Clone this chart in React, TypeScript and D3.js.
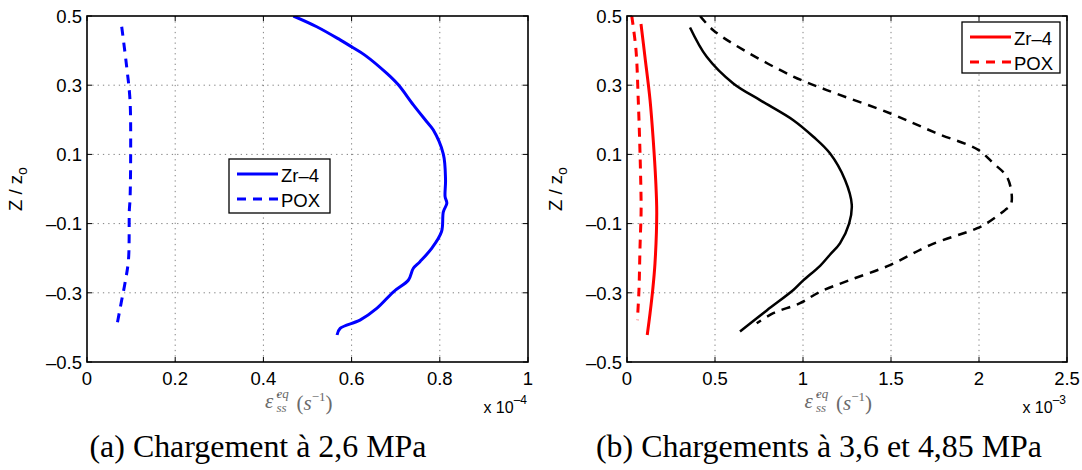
import React from "react";
import * as d3 from "d3";

// ---------- data (x in units of the exponent, z = Z / z_o) ----------
const yTicks = [-0.5, -0.3, -0.1, 0.1, 0.3, 0.5];
const xTicksA = [0, 0.2, 0.4, 0.6, 0.8, 1];
const xTicksB = [0, 0.5, 1, 1.5, 2, 2.5];

// Panel (a): 2.6 MPa, x 1e-4
const zr4A: [number, number][] = [
  [0.468, 0.5], [0.521, 0.469], [0.574, 0.431], [0.6, 0.411], [0.63, 0.387],
  [0.68, 0.334], [0.706, 0.301], [0.74, 0.243], [0.77, 0.195], [0.785, 0.171],
  [0.808, 0.101], [0.813, 0.026], [0.812, -0.022], [0.816, -0.041], [0.808, -0.066],
  [0.804, -0.123], [0.782, -0.171], [0.755, -0.21], [0.74, -0.229], [0.729, -0.263],
  [0.695, -0.297], [0.657, -0.345], [0.619, -0.379], [0.574, -0.403], [0.567, -0.422],
];
const poxA: [number, number][] = [
  [0.0787, 0.469], [0.09, 0.353], [0.0975, 0.257], [0.099, 0.103], [0.0975, -0.032],
  [0.096, -0.061], [0.094, -0.205], [0.086, -0.273], [0.0787, -0.321], [0.0673, -0.398],
];

// Panel (b): 3.6 MPa (red) and 4.85 MPa (black), x 1e-3
const zr4B36: [number, number][] = [
  [0.0795, 0.477], [0.102, 0.382], [0.131, 0.257], [0.149, 0.142], [0.163, 0.026],
  [0.169, -0.07], [0.159, -0.215], [0.146, -0.292], [0.131, -0.359], [0.115, -0.422],
];
const poxB36: [number, number][] = [
  [0.027, 0.5], [0.051, 0.402], [0.064, 0.257], [0.074, 0.103], [0.08, -0.032],
  [0.08, -0.07], [0.074, -0.167], [0.068, -0.292], [0.059, -0.379],
];
const zr4B485: [number, number][] = [
  [0.358, 0.467], [0.453, 0.382], [0.604, 0.305], [0.756, 0.257], [0.945, 0.199],
  [1.059, 0.151], [1.153, 0.103], [1.239, 0.026], [1.277, -0.045], [1.262, -0.1],
  [1.21, -0.157], [1.153, -0.19], [1.097, -0.222], [1.0, -0.265], [0.945, -0.292],
  [0.794, -0.351], [0.642, -0.412],
];
const poxB485: [number, number][] = [
  [0.415, 0.5], [0.49, 0.459], [0.661, 0.402], [0.945, 0.325], [1.135, 0.286],
  [1.494, 0.219], [1.76, 0.161], [1.996, 0.113], [2.082, 0.074], [2.158, 0.036],
  [2.186, -0.017], [2.18, -0.046], [2.148, -0.061], [2.044, -0.099], [1.987, -0.114],
  [1.722, -0.162], [1.494, -0.22], [1.267, -0.263], [1.097, -0.297], [0.983, -0.33],
  [0.831, -0.359], [0.737, -0.388],
];

const legendLabels = ["Zr–4", "POX"];
const captions = ["(a) Chargement à 2,6 MPa", "(b) Chargements à 3,6 et 4,85 MPa"];
const exponents = ["–4", "–3"];

// ---------- layout ----------
const TOP = 16;
const BOTTOM = 362;
const SANS = "'Liberation Sans', Arial, Helvetica, sans-serif";
const SERIF = "'Liberation Serif', 'DejaVu Serif', serif";
const fmt = (v: number) => String(v).replace("-", "–");

type Series = { data: [number, number][]; color: string; dashed: boolean; width: number };
type PanelProps = {
  id: string;
  left: number;
  right: number;
  xMax: number;
  xTicks: number[];
  series: Series[];
  legend: { x: number; y: number; w: number; h: number; color: string };
  exponent: string;
  caption: string;
  captionCx: number;
  captionLen: number;
};

function Panel(p: PanelProps) {
  const x = d3.scaleLinear().domain([0, p.xMax]).range([p.left, p.right]);
  const y = d3.scaleLinear().domain([-0.5, 0.5]).range([BOTTOM, TOP]);
  const line = d3
    .line<[number, number]>()
    .x((d) => x(d[0]))
    .y((d) => y(d[1]))
    .curve(d3.curveCatmullRom.alpha(0.5));
  const cx = (p.left + p.right) / 2;
  const cy = (TOP + BOTTOM) / 2;
  const tick = 5;
  const lg = p.legend;
  return (
    <g>
      <defs>
        <clipPath id={p.id}>
          <rect x={p.left} y={TOP} width={p.right - p.left} height={BOTTOM - TOP} />
        </clipPath>
      </defs>
      {/* grid */}
      {p.xTicks.slice(1, -1).map((t) => (
        <line key={"gx" + t} x1={x(t)} x2={x(t)} y1={TOP} y2={BOTTOM} stroke="#808080" strokeWidth={1} strokeDasharray="1.3,4" />
      ))}
      {yTicks.slice(1, -1).map((t) => (
        <line key={"gy" + t} x1={p.left} x2={p.right} y1={y(t)} y2={y(t)} stroke="#808080" strokeWidth={1} strokeDasharray="1.3,4" />
      ))}
      {/* ticks */}
      {p.xTicks.map((t) => (
        <g key={"tx" + t}>
          <line x1={x(t)} x2={x(t)} y1={BOTTOM} y2={BOTTOM - tick} stroke="#000" />
          <line x1={x(t)} x2={x(t)} y1={TOP} y2={TOP + tick} stroke="#000" />
          <text x={x(t)} y={BOTTOM + 22.5} textAnchor="middle" fontFamily={SANS} fontSize={18.5}>
            {fmt(t)}
          </text>
        </g>
      ))}
      {yTicks.map((t) => (
        <g key={"ty" + t}>
          <line x1={p.left} x2={p.left + tick} y1={y(t)} y2={y(t)} stroke="#000" />
          <line x1={p.right} x2={p.right - tick} y1={y(t)} y2={y(t)} stroke="#000" />
          <text x={p.left - 5} y={y(t) + 6.7} textAnchor="end" fontFamily={SANS} fontSize={18.5}>
            {fmt(t)}
          </text>
        </g>
      ))}
      {/* series */}
      <g clipPath={`url(#${p.id})`}>
        {p.series.map((s, i) => (
          <path
            key={i}
            d={line(s.data) || ""}
            fill="none"
            stroke={s.color}
            strokeWidth={s.width}
            strokeDasharray={s.dashed ? "9,7" : undefined}
            strokeLinejoin="round"
          />
        ))}
      </g>
      {/* box */}
      <rect x={p.left} y={TOP} width={p.right - p.left} height={BOTTOM - TOP} fill="none" stroke="#000" strokeWidth={1.6} />
      {/* legend */}
      <rect x={lg.x} y={lg.y} width={lg.w} height={lg.h} fill="#fff" stroke="#000" strokeWidth={1.3} />
      {legendLabels.map((lab, i) => {
        const ly = lg.y + 15 + i * 25;
        return (
          <g key={lab}>
            <line x1={lg.x + 8} x2={lg.x + 49} y1={ly} y2={ly} stroke={lg.color} strokeWidth={3} strokeDasharray={i === 1 ? "9,7" : undefined} />
            <text x={lg.x + 52} y={ly + 7.5} fontFamily={SANS} fontSize={18.5}>
              {lab}
            </text>
          </g>
        );
      })}
      {/* y label */}
      <text transform={`translate(${p.left - 65},${cy}) rotate(-90)`} textAnchor="middle" fontFamily={SANS} fontSize={18.5}>
        Z / z
        <tspan dy={5} fontSize={14}>o</tspan>
      </text>
      {/* x label */}
      <g fill="#6a6a6a" fontFamily={SERIF} fontStyle="italic">
        <text x={cx - 42.5} y={408} fontSize={21}>ε̇</text>
        <text x={cx - 31} y={398} fontSize={13}>eq</text>
        <text x={cx - 31} y={412} fontSize={13}>ss</text>
        <text x={cx - 11} y={410} fontSize={21}>
          <tspan fontStyle="normal">(</tspan>s
          <tspan dy={-9} fontSize={13} fontStyle="normal">−1</tspan>
          <tspan dy={9} fontStyle="normal">)</tspan>
        </text>
      </g>
      {/* exponent */}
      <text x={p.right - 1} y={413} textAnchor="end" fontFamily={SANS} fontSize={16}>
        x 10
        <tspan dy={-9} fontSize={12}>{p.exponent}</tspan>
      </text>
      {/* caption */}
      <text
        x={p.captionCx}
        y={457}
        textAnchor="middle"
        fontFamily={SERIF}
        fontSize={31}
        textLength={p.captionLen}
        lengthAdjust="spacingAndGlyphs"
      >
        {p.caption}
      </text>
    </g>
  );
}

export default function App() {
  return (
    <svg
      width={1082}
      height={470}
      viewBox="0 0 1082 470"
      style={{ position: "absolute", left: 0, top: 0, display: "block", background: "#fff" }}
    >
      <rect x={0} y={0} width={1082} height={470} fill="#fff" />
      <Panel
        id="clipA"
        left={87}
        right={528}
        xMax={1}
        xTicks={xTicksA}
        series={[
          { data: zr4A, color: "#0000ff", dashed: false, width: 3 },
          { data: poxA, color: "#0000ff", dashed: true, width: 3 },
        ]}
        legend={{ x: 229, y: 159, w: 101, h: 54, color: "#0000ff" }}
        exponent={exponents[0]}
        caption={captions[0]}
        captionCx={258}
        captionLen={337}
      />
      <Panel
        id="clipB"
        left={627}
        right={1067}
        xMax={2.5}
        xTicks={xTicksB}
        series={[
          { data: zr4B36, color: "#ff0000", dashed: false, width: 3 },
          { data: poxB36, color: "#ff0000", dashed: true, width: 3 },
          { data: zr4B485, color: "#000000", dashed: false, width: 2.5 },
          { data: poxB485, color: "#000000", dashed: true, width: 2.5 },
        ]}
        legend={{ x: 962, y: 22, w: 98, h: 51, color: "#ff0000" }}
        exponent={exponents[1]}
        caption={captions[1]}
        captionCx={819}
        captionLen={446}
      />
    </svg>
  );
}
